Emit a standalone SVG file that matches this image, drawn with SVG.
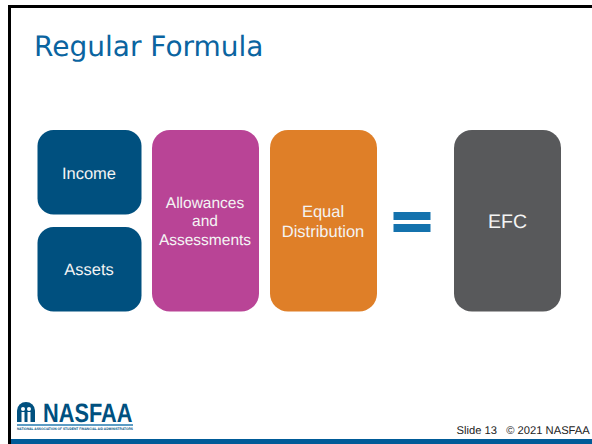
<svg xmlns="http://www.w3.org/2000/svg" width="592" height="444" viewBox="0 0 592 444">
<style>
text{text-rendering:geometricPrecision}
.l{font-family:"Liberation Sans",Arial,sans-serif;font-size:16.500px;fill:#f4f4f4;text-anchor:middle}
.m{font-size:15.500px}
</style>
<rect width="592" height="444" fill="#fff"/>
<path d="M9.500 444V6.500H592" fill="none" stroke="#000" stroke-width="3"/>
<rect x="11" y="439" width="581" height="5" fill="#005b98"/>
<text x="34" y="56" font-family="'DejaVu Sans',Verdana,sans-serif" font-size="28" fill="#0a64a0">Regular Formula</text>
<g id="income"><rect x="37.500" y="130" width="104" height="84.500" rx="16" fill="#00507f"/><text class="l" x="89" y="179">Income</text></g>
<g id="assets"><rect x="37.500" y="227" width="104" height="84.500" rx="16" fill="#00507f"/><text class="l" x="89" y="275">Assets</text></g>
<g id="allowances"><rect x="152" y="130" width="107" height="181.500" rx="18" fill="#b94496"/><text class="l m" x="205" y="208">Allowances</text><text class="l m" x="205" y="226">and</text><text class="l m" x="205" y="245">Assessments</text></g>
<g id="equal"><rect x="270" y="130" width="107" height="181.500" rx="18" fill="#df7f28"/><text class="l" x="323" y="217">Equal</text><text class="l" x="323" y="237">Distribution</text></g>
<g id="equals"><rect x="393.500" y="212" width="37" height="8" fill="#1472ad"/><rect x="393.500" y="224" width="37" height="8" fill="#1472ad"/></g>
<g id="efc"><rect x="454" y="130" width="107" height="181.500" rx="18" fill="#58595b"/><text class="l" x="507.500" y="228" style="font-size:19.500px">EFC</text></g>
<g id="logo">
<path d="M17 422V410.500a9 8.500 0 0 1 18 0V422Z" fill="#00507f"/>
<circle cx="23" cy="409" r="2" fill="#fff"/><circle cx="29" cy="409" r="2" fill="#fff"/>
<rect x="21.500" y="412" width="3" height="10" fill="#fff"/><rect x="27.500" y="412" width="3" height="10" fill="#fff"/>
<text x="43" y="422" font-family="'Liberation Sans',Arial,sans-serif" font-weight="700" font-size="26.500" fill="#00507f" textLength="89.500" lengthAdjust="spacingAndGlyphs">NASFAA</text>
<rect x="17" y="424" width="116" height="2" fill="#5c9cc4"/>
<text x="17" y="430" font-family="'Liberation Sans',Arial,sans-serif" font-weight="700" font-size="3.500" fill="#00507f" textLength="116" lengthAdjust="spacingAndGlyphs">NATIONAL ASSOCIATION OF STUDENT FINANCIAL AID ADMINISTRATORS</text>
</g>
<text x="456.500" y="434" xml:space="preserve" font-family="'Liberation Sans',Arial,sans-serif" font-size="11.200" fill="#222">Slide 13   © 2021 NASFAA</text>
</svg>
